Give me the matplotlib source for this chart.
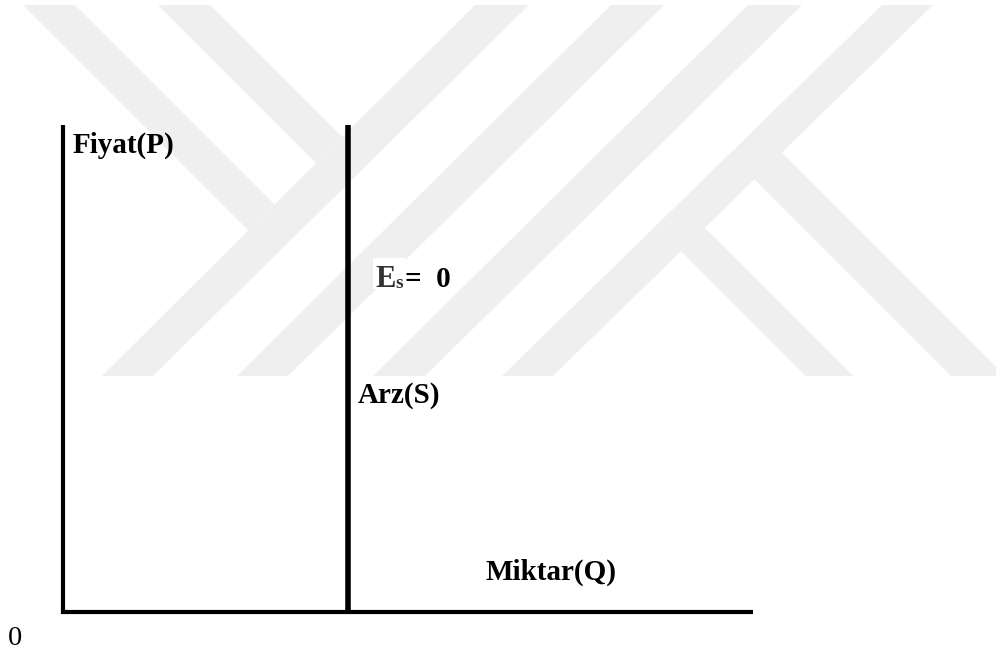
import matplotlib
matplotlib.use("Agg")
import matplotlib.pyplot as plt
from matplotlib.patches import Polygon, Rectangle

#diagram values (arbitrary units)
Q_AXIS = [0, 10]
P_AXIS = [0, 10]
SUPPLY_Q = 4.13      # fixed quantity, supply does not react to price
ELASTICITY = "0"

LABEL_P = "Fiyat(P)"
LABEL_Q = "Miktar(Q)"
LABEL_S = "Arz(S)"
ORIGIN = "0"

#figure size in pixels
W, H = 996, 652
SERIF = "Liberation Serif"
WM_COLOR = "#efefef"

#watermark bands in pixel coords, top cut at y=5, bottom cut at y=376
WM_TOP, WM_BOT = 5, 376
UP_BANDS = [  # bottom x left/right, top x left/right
    (102, 153, 475, 529),
    (237, 288, 611, 664),
    (373, 425, 748, 802),
    (502, 553, 882, 933),
]
TOP_STUBS = [(23, 75), (158, 210)]      # down-right stripes ending on first band
BOTTOM_ARMS = [(806, 853), (951, 1005)]  # down-right arms of the K


def intersect(a, b, c, d):
    #intersection of line a-b with line c-d
    x1, y1 = a
    x2, y2 = b
    x3, y3 = c
    x4, y4 = d
    den = (x1 - x2) * (y3 - y4) - (y1 - y2) * (x3 - x4)
    t = ((x1 - x3) * (y3 - y4) - (y1 - y3) * (x3 - x4)) / den
    return (x1 + t * (x2 - x1), y1 + t * (y2 - y1))


fig = plt.figure(figsize=(W / 100, H / 100), dpi=100)

#background axes in pixel coords for the watermark
bg = fig.add_axes([0, 0, 1, 1])
bg.set_xlim(0, W)
bg.set_ylim(H, 0)
bg.axis("off")

span = WM_BOT - WM_TOP
for bl, br, tl, tr in UP_BANDS:
    bg.add_patch(Polygon([(bl, WM_BOT), (br, WM_BOT), (tr, WM_TOP), (tl, WM_TOP)],
                         closed=True, fc=WM_COLOR, ec="none"))

#stripes from the top that stop on the left edge of the first band
bl, br, tl, tr = UP_BANDS[0]
edge = ((bl, WM_BOT), (tl, WM_TOP))
for xl, xr in TOP_STUBS:
    p_low = intersect((xl, WM_TOP), (xl + span, WM_BOT), *edge)
    p_up = intersect((xr, WM_TOP), (xr + span, WM_BOT), *edge)
    bg.add_patch(Polygon([(xl, WM_TOP), (xr, WM_TOP), p_up, p_low],
                         closed=True, fc=WM_COLOR, ec="none"))

#arms of the K leaving the right edge of the last band
bl, br, tl, tr = UP_BANDS[-1]
edge = ((br, WM_BOT), (tr, WM_TOP))
for xl, xr in BOTTOM_ARMS:
    p_l = intersect((xl, WM_BOT), (xl - span, WM_TOP), *edge)
    p_r = intersect((xr, WM_BOT), (xr - span, WM_TOP), *edge)
    bg.add_patch(Polygon([(xl, WM_BOT), (xr, WM_BOT), p_r, p_l],
                         closed=True, fc=WM_COLOR, ec="none"))

#white patch behind the E_s label
bg.add_patch(Rectangle((373, 258), 32, 31, fc="white", ec="none"))

#main diagram axes
ax = fig.add_axes([63 / W, (H - 612) / H, (753 - 63) / W, (612 - 125) / H])
ax.set_xlim(Q_AXIS)
ax.set_ylim(P_AXIS)
ax.patch.set_alpha(0)
ax.axis("off")

ax.plot([Q_AXIS[0], Q_AXIS[0], Q_AXIS[1]], [P_AXIS[1], P_AXIS[0], P_AXIS[0]],
        color="black", lw=3.0, solid_joinstyle="miter", solid_capstyle="butt",
        clip_on=False)
ax.plot([SUPPLY_Q, SUPPLY_Q], P_AXIS, color="black", lw=4.0,
        solid_capstyle="butt", clip_on=False)


def put(x, y, s, **kw):
    fig.text(x / W, 1 - y / H, s, family=SERIF, va="baseline", ha="left", **kw)


put(73, 153, LABEL_P, fontsize=21, fontweight="bold")
put(358, 403, LABEL_S, fontsize=21, fontweight="bold")
put(485, 580, LABEL_Q, fontsize=21, fontweight="bold")
put(8, 645, ORIGIN, fontsize=20.5)

#elasticity label
put(375, 287, "E", fontsize=22, fontweight="bold", color="#333333")
put(395, 288, "s", fontsize=14, fontweight="bold", color="#333333")
put(405, 287, "=  " + ELASTICITY, fontsize=21, fontweight="bold")

fig.savefig("out.png", dpi=100)
